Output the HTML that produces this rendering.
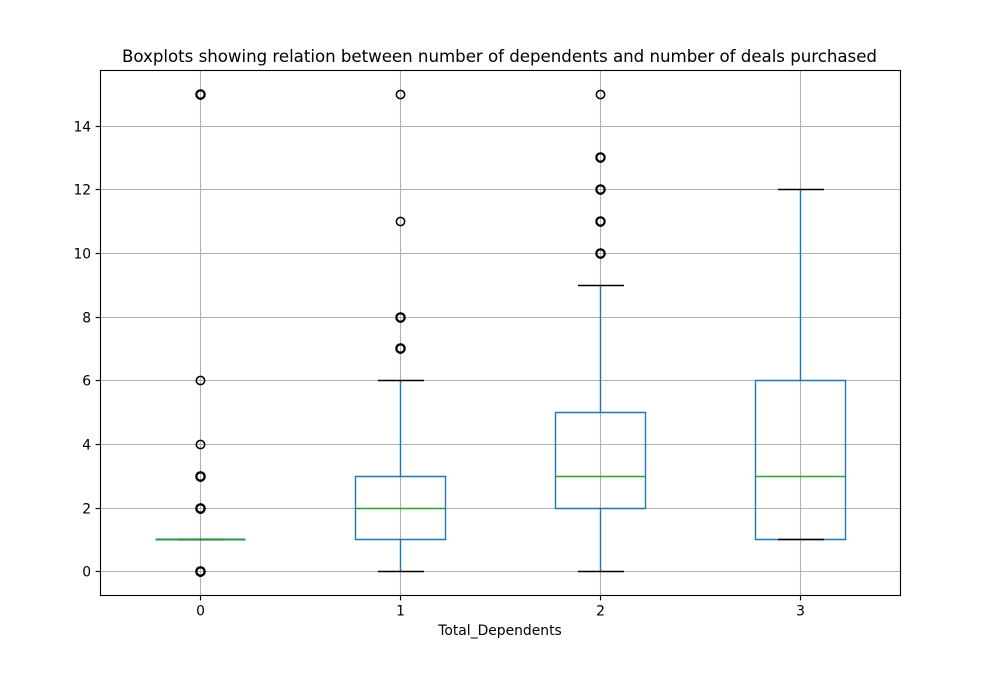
<!DOCTYPE html>
<html>
<head>
<meta charset="utf-8">
<style>
html,body{margin:0;padding:0;background:#fff;}
svg{display:block;}
text{font-family:"DejaVu Sans",sans-serif;fill:#000;}
</style>
</head>
<body>
<svg id="chart" width="1000" height="700" viewBox="0 0 1000 700" xmlns="http://www.w3.org/2000/svg">
<rect x="0" y="0" width="1000" height="700" fill="#fff"/>
<text x="122" y="62" font-size="16.67" textLength="755" lengthAdjust="spacing">Boxplots showing relation between number of dependents and number of deals purchased</text>
<text x="500" y="635" font-size="13.89" text-anchor="middle">Total_Dependents</text>
</svg>
<script>
const categories = ['0', '1', '2', '3'];
const yTicks = [0, 2, 4, 6, 8, 10, 12, 14];
const q1Values = [1, 1, 2, 1];
const medianValues = [1, 2, 3, 3];
const q3Values = [1, 3, 5, 6];
const whiskerLow = [1, 0, 0, 1];
const whiskerHigh = [1, 6, 9, 12];
const outliers0 = [15, 15, 15, 15, 15, 15, 6, 4, 3, 3, 3, 3, 3, 3, 3, 3, 3, 3, 3, 3, 2, 2, 2, 2, 2, 2, 2, 2, 2, 2, 2, 2, 2, 2, 2, 2, 0, 0, 0, 0, 0, 0, 0, 0, 0, 0, 0, 0, 0, 0, 0, 0, 0, 0, 0, 0];
const outliers1 = [15, 11, 8, 8, 8, 8, 8, 8, 7, 7, 7, 7, 7, 7, 7, 7, 7, 7];
const outliers2 = [15, 13, 13, 13, 13, 13, 12, 12, 12, 12, 12, 11, 11, 11, 11, 11, 10, 10, 10, 10, 10, 10];
const outliers3 = [];
const outlierGroups = [outliers0, outliers1, outliers2, outliers3];

const svg = document.getElementById('chart');
const NS = 'http://www.w3.org/2000/svg';
const plot = {left: 100.3, right: 900.3, top: 69.9, bottom: 595.1};
const yDomain = {min: -0.75, max: 15.75};
const xDomain = {min: -0.5, max: 3.5};
const boxWidth = 0.45;
const capWidth = 0.225;
const BLUE = '#1f77b4', GREEN = '#2ca02c', GRID = '#b0b0b0';

function xScale(i) {
  return plot.left + (i - xDomain.min) / (xDomain.max - xDomain.min) * (plot.right - plot.left);
}
function yScale(v) {
  return plot.bottom - (v - yDomain.min) / (yDomain.max - yDomain.min) * (plot.bottom - plot.top);
}
function xSnap(i) {
  return Math.floor(xScale(i)) + 0.5;
}
function ySnap(v) {
  return Math.round(yScale(v)) + 0.5;
}
function line(x1, y1, x2, y2, stroke, width) {
  const el = document.createElementNS(NS, 'line');
  el.setAttribute('x1', x1);
  el.setAttribute('y1', y1);
  el.setAttribute('x2', x2);
  el.setAttribute('y2', y2);
  el.setAttribute('stroke', stroke);
  el.setAttribute('stroke-width', width);
  return el;
}
function label(x, y, str, anchor) {
  const el = document.createElementNS(NS, 'text');
  el.setAttribute('x', x);
  el.setAttribute('y', y);
  el.setAttribute('font-size', '13.89');
  el.setAttribute('text-anchor', anchor);
  el.textContent = str;
  return el;
}

const frameL = 100.5, frameR = 900.5, frameT = 70.5, frameB = 595.5;

// Grid lines
yTicks.forEach(function (t) {
  const el = line(frameL, ySnap(t), frameR, ySnap(t), GRID, 1.11);
  
  
  svg.appendChild(el);
});
categories.forEach(function (c, i) {
  const el = line(xSnap(i), frameT, xSnap(i), frameB, GRID, 1.11);
  
  
  svg.appendChild(el);
});

// Boxes, whiskers, caps, medians, outliers
categories.forEach(function (c, i) {
  const left = xSnap(i - boxWidth / 2), right = xSnap(i + boxWidth / 2);
  const capL = Math.round(xScale(i - capWidth / 2)), capR = Math.round(xScale(i + capWidth / 2)) + 1;
  const cx = xSnap(i);
  const flatBox = q1Values[i] === q3Values[i];

  const box = document.createElementNS(NS, 'path');
  box.setAttribute('d', 'M' + left + ' ' + ySnap(q1Values[i]) + 'L' + right + ' ' + ySnap(q1Values[i]) + 'L' + right + ' ' + ySnap(q3Values[i]) + 'L' + left + ' ' + ySnap(q3Values[i]) + 'Z');
  box.setAttribute('fill', 'none');
  box.setAttribute('stroke', BLUE);
  box.setAttribute('stroke-width', flatBox ? '1.9' : '1.39');
  
  
  svg.appendChild(box);

  const wLow = line(cx, ySnap(q1Values[i]), cx, ySnap(whiskerLow[i]), BLUE, 1.39);
  
  
  svg.appendChild(wLow);

  const wHigh = line(cx, ySnap(q3Values[i]), cx, ySnap(whiskerHigh[i]), BLUE, 1.39);
  
  
  svg.appendChild(wHigh);

  const capLow = line(capL, ySnap(whiskerLow[i]), capR, ySnap(whiskerLow[i]), '#000', 1.39);
  
  
  svg.appendChild(capLow);

  const capHigh = line(capL, ySnap(whiskerHigh[i]), capR, ySnap(whiskerHigh[i]), '#000', 1.39);
  
  
  svg.appendChild(capHigh);

  const med = line(left, ySnap(medianValues[i]), right, ySnap(medianValues[i]), GREEN, 1.39);
  
  
  svg.appendChild(med);

  outlierGroups[i].forEach(function (v) {
    const repeats = outlierGroups[i].filter(function (o) { return o === v; }).length;
    const p = document.createElementNS(NS, 'circle');
    p.setAttribute('cx', cx);
    p.setAttribute('cy', ySnap(v));
    p.setAttribute('r', '4.17');
    p.setAttribute('fill', 'none');
    p.setAttribute('stroke', '#000');
    p.setAttribute('stroke-width', repeats > 1 ? '1.9' : '1.5');
    
    
    svg.appendChild(p);
  });
});

// Axes frame
const frame = document.createElementNS(NS, 'rect');
frame.setAttribute('x', frameL);
frame.setAttribute('y', frameT);
frame.setAttribute('width', frameR - frameL);
frame.setAttribute('height', frameB - frameT);
frame.setAttribute('fill', 'none');
frame.setAttribute('stroke', '#000');
frame.setAttribute('stroke-width', '1.11');


svg.appendChild(frame);

// Ticks and labels
yTicks.forEach(function (t) {
  const tick = line(frameL - 4.86, ySnap(t), frameL, ySnap(t), '#000', 1.11);
  
  
  svg.appendChild(tick);
  const txt = label(plot.left - 9.2, ySnap(t) + 5, String(t), 'end');
  
  
  svg.appendChild(txt);
});
categories.forEach(function (c, i) {
  const tick = line(xSnap(i), frameB, xSnap(i), frameB + 4.86, '#000', 1.11);
  
  
  svg.appendChild(tick);
  const txt = label(xSnap(i), 615.5, c, 'middle');
  
  
  svg.appendChild(txt);
});
</script>
</body>
</html>
